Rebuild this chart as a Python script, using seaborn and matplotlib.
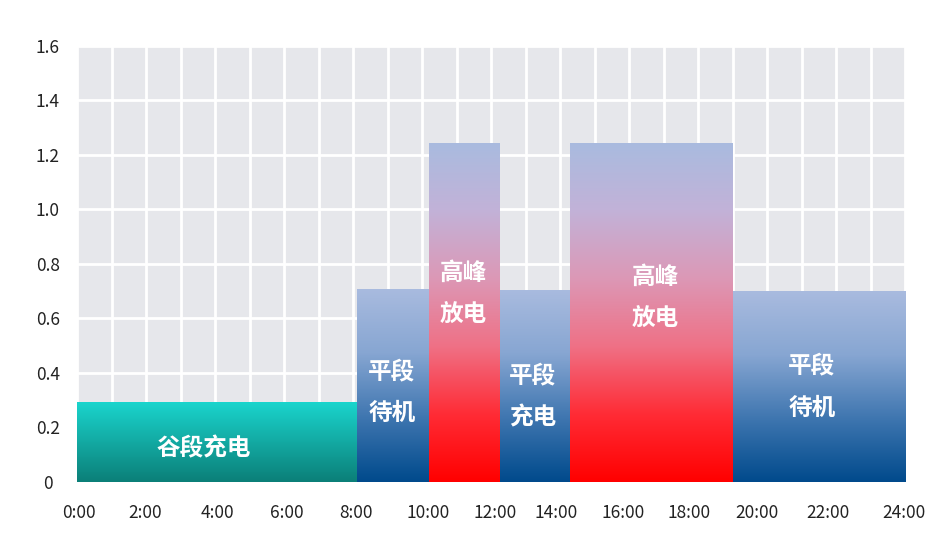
import numpy as np
import matplotlib
matplotlib.use('Agg')
import matplotlib.pyplot as plt
from matplotlib.colors import LinearSegmentedColormap
import seaborn as sns

# period edges (hours) and level of each period
edges = [0, 8.12, 10.2, 12.25, 14.3, 19.0, 24]
levels = [0.295, 0.71, 1.245, 0.705, 1.245, 0.70]
kinds = ['valley', 'flat', 'peak', 'flat', 'peak', 'flat']
labels = ['谷段充电', '平段\n待机', '高峰\n放电', '平段\n充电', '高峰\n放电', '平段\n待机']

x_ticklabels = ['0:00', '2:00', '4:00', '6:00', '8:00', '10:00', '12:00',
                '14:00', '16:00', '18:00', '20:00', '22:00', '24:00']
y_ticks = [0, 0.2, 0.4, 0.6, 0.8, 1.0, 1.2, 1.4, 1.6]
y_ticklabels = ['0', '0.2', '0.4', '0.6', '0.8', '1.0', '1.2', '1.4', '1.6']

# layout: where the tick labels sit and where the bar captions sit
x_tickpos = [0.05, 1.97, 4.06, 6.09, 8.1, 10.17, 12.12, 13.9, 15.83, 17.74, 19.71, 21.77, 23.97]
label_pos = [(3.68, 0.125), (9.13, 0.33), (11.2, 0.69), (13.2, 0.315), (16.75, 0.675), (21.3, 0.35)]

gradients = {
    'valley': ['#0b7f78', '#13aaa3', '#1ad6ce'],
    'flat': ['#004a8c', '#3f76b0', '#87a6d2', '#a9bbdf'],
    'peak': ['#ff0000', '#ff2c36', '#ef7186', '#dc98b6', '#c2b2d8', '#a9bbdf'],
}

sns.set_theme(style='darkgrid', rc={
    'axes.facecolor': '#e6e7eb',
    'grid.color': 'white',
    'grid.linewidth': 2.0,
})
plt.rcParams['font.family'] = ['Noto Sans CJK SC', 'DejaVu Sans']

fig = plt.figure(figsize=(9.44, 5.45), dpi=100)
ax = fig.add_axes([0.0816, 0.1156, 0.8771, 0.8])

mids = [(a + b) / 2 for a, b in zip(edges[:-1], edges[1:])]
sns.histplot(x=mids, weights=levels, bins=edges, stat='count', element='bars',
             fill=True, linewidth=0, color='#a9bbdf', alpha=1, ax=ax, zorder=2)

# gradient fill clipped to each bar
grad = np.linspace(0, 1, 256).reshape(-1, 1)
for patch, kind in zip(ax.patches, kinds):
    x0, y0 = patch.get_x(), patch.get_y()
    w, h = patch.get_width(), patch.get_height()
    cmap = LinearSegmentedColormap.from_list(kind, gradients[kind])
    im = ax.imshow(grad, cmap=cmap, origin='lower', aspect='auto',
                   extent=[x0, x0 + w, y0, y0 + h], zorder=3, interpolation='bicubic')
    im.set_clip_path(patch)

for text, (tx, ty) in zip(labels, label_pos):
    ax.text(tx, ty, text, color='white', fontsize=17, fontweight='bold',
            ha='center', va='center', linespacing=1.95, zorder=5,
            family=['Noto Sans CJK SC', 'DejaVu Sans'])

ax.set_xlim(0, 24)
ax.set_ylim(0, 1.6)
ax.set_xticks(np.arange(0, 25, 1), minor=False)
ax.set_xticklabels([''] * 25)
ax.set_xticks(x_tickpos, minor=True)
ax.set_xticklabels(x_ticklabels, minor=True)
ax.set_yticks(y_ticks)
ax.set_yticklabels(y_ticklabels)
ax.grid(True, which='major', axis='both')
ax.grid(False, which='minor')
ax.tick_params(axis='x', which='both', length=0, pad=16, labelsize=12.5, colors='#222222')
ax.tick_params(axis='y', length=0, pad=21, labelsize=12.5, colors='#222222')
for lab in ax.get_yticklabels():
    lab.set_horizontalalignment('center')
ax.set_xlabel('')
ax.set_ylabel('')
for s in ax.spines.values():
    s.set_visible(False)
ax.set_axisbelow(True)

fig.savefig('out.png', dpi=100)
